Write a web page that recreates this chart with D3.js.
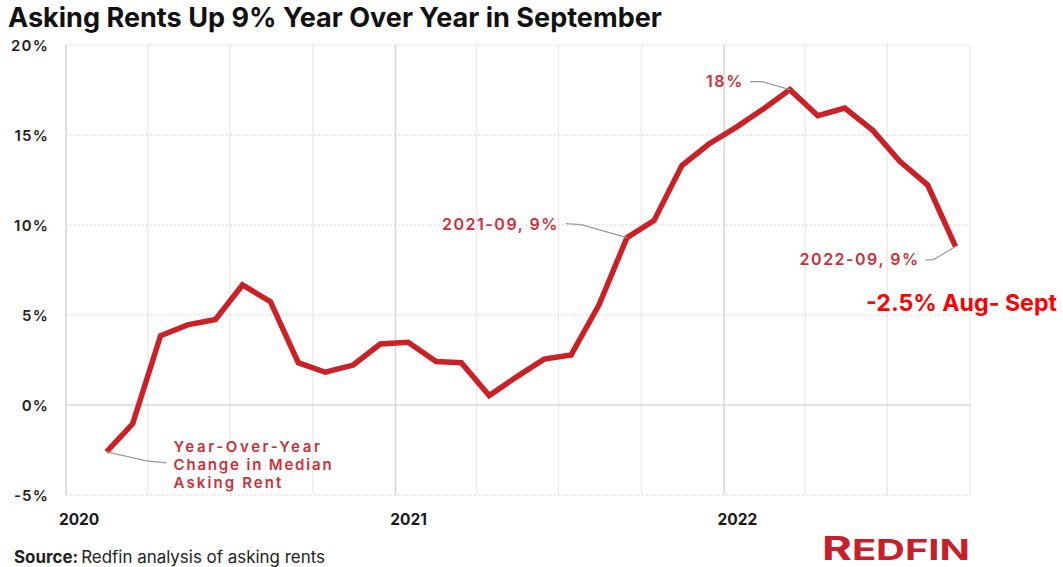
<!DOCTYPE html>
<html>
<head>
<meta charset="utf-8">
<script src="https://cdn.jsdelivr.net/npm/d3@7"></script>
<style>
  html, body { margin: 0; padding: 0; background: #fff; }
  svg { display: block; }
  text { font-family: Inter, Roboto, sans-serif; }
</style>
</head>
<body>
<div id="chart"></div>
<script>
// year-over-year change in median asking rent, Feb 2020 - Sep 2022
const months = [
  '2020-02', '2020-03', '2020-04', '2020-05', '2020-06', '2020-07', '2020-08',
  '2020-09', '2020-10', '2020-11', '2020-12',
  '2021-01', '2021-02', '2021-03', '2021-04', '2021-05', '2021-06', '2021-07',
  '2021-08', '2021-09', '2021-10', '2021-11', '2021-12',
  '2022-01', '2022-02', '2022-03', '2022-04', '2022-05', '2022-06', '2022-07',
  '2022-08', '2022-09',
];
const yoyChange = [
  -2.6, -1.05, 3.85, 4.45, 4.75, 6.67, 5.74,
  2.35, 1.82, 2.22, 3.39,
  3.48, 2.41, 2.35, 0.52, 1.55, 2.55, 2.78,
  5.56, 9.3, 10.24, 13.3, 14.5,
  15.45, 16.5, 17.52, 16.07, 16.5, 15.26, 13.54,
  12.22, 8.8,
];
const yTicks = [-5, 0, 5, 10, 15, 20];
const yearTicks = ['2020', '2021', '2022'];

const title = 'Asking Rents Up 9% Year Over Year in September';
const seriesLabel = ['Year-Over-Year', 'Change in Median', 'Asking Rent'];
const peakLabel = '18%';
const callouts = [
  {month: '2021-09', text: '2021-09, 9%'},
  {month: '2022-09', text: '2022-09, 9%'},
];
const monthNote = '-2.5% Aug- Sept';

const W = 1063;
const H = 567;
const margin = {top: 45, right: 93, bottom: 72, left: 66};
const lineRed = '#cc2027';
const textRed = '#cc2f37';

const parseMonth = d3.timeParse('%Y-%m');
// points sit mid-month
const midMonth = (m) => d3.timeDay.offset(parseMonth(m), 14);

const data = months.map((m, i) => ({date: midMonth(m), value: yoyChange[i], month: m}));

const xScale = d3.scaleTime()
    .domain([new Date(2020, 0, 1), new Date(2022, 9, 1)])
    .range([margin.left, W - margin.right]);
const yScale = d3.scaleLinear()
    .domain([-5, 20])
    .range([H - margin.bottom, margin.top]);

const svg = d3.select('#chart').append('svg')
    .attr('width', W)
    .attr('height', H);

// fits a text element to a target width by scaling its font size
const fitWidth = (sel, target) => {
  const size = parseFloat(sel.attr('font-size'));
  const w = sel.node().getComputedTextLength();
  sel.attr('font-size', (size * target / w).toFixed(2));
};

// same, but through letter spacing so the font size stays put
const fitSpacing = (sel, target) => {
  const txt = sel.text();
  sel.attr('letter-spacing', 0);
  const w = sel.node().getComputedTextLength();
  sel.attr('letter-spacing', ((target - w) / txt.length).toFixed(2));
};

// vertical grid, one line per quarter
const quarters = d3.timeMonth.every(3).range(new Date(2020, 0, 1), new Date(2022, 9, 2));
svg.append('g')
    .selectAll('line')
    .data(quarters)
    .join('line')
    .attr('x1', (d) => xScale(d))
    .attr('x2', (d) => xScale(d))
    .attr('y1', margin.top)
    .attr('y2', H - margin.bottom)
    .attr('stroke', (d) => d.getMonth() === 0 ? '#d6d6d6' : '#ececec')
    .attr('stroke-width', 1.5);

// horizontal grid
svg.append('g')
    .selectAll('line')
    .data(yTicks)
    .join('line')
    .attr('x1', margin.left)
    .attr('x2', W - margin.right)
    .attr('y1', (d) => yScale(d))
    .attr('y2', (d) => yScale(d))
    .attr('stroke', (d) => d === 0 ? '#d9d9d9' : '#c8c8c8')
    .attr('stroke-width', (d) => d === 0 ? 1.5 : 1)
    .attr('stroke-dasharray', (d) => d === 0 ? null : '1.5,2.5');

// left axis line
svg.append('line')
    .attr('x1', margin.left).attr('x2', margin.left)
    .attr('y1', margin.top).attr('y2', H - margin.bottom)
    .attr('stroke', '#dcdcdc')
    .attr('stroke-width', 1.5);

// y labels
const yAxis = d3.axisLeft(yScale)
    .tickValues(yTicks)
    .tickFormat((d) => d + '%')
    .tickSize(0)
    .tickPadding(17);
svg.append('g')
    .attr('transform', `translate(${margin.left},0)`)
    .call(yAxis)
    .call((g) => g.select('.domain').remove())
    .selectAll('text')
    .attr('font-family', 'Inter, Roboto, sans-serif')
    .attr('font-size', 15)
    .attr('font-weight', 600)
    .attr('letter-spacing', 1.2)
    .attr('fill', '#222')
    .attr('dy', '0.35em');

// x labels, centred on mid-January
const xAxis = d3.axisBottom(xScale)
    .tickValues(yearTicks.map((y) => d3.timeDay.offset(new Date(+y, 0, 1), 14)))
    .tickFormat(d3.timeFormat('%Y'))
    .tickSize(0)
    .tickPadding(19);
svg.append('g')
    .attr('transform', `translate(0,${H - margin.bottom})`)
    .call(xAxis)
    .call((g) => g.select('.domain').remove())
    .selectAll('text')
    .attr('font-family', 'Inter, Roboto, sans-serif')
    .attr('font-size', 15.5)
    .attr('font-weight', 700)
    .attr('fill', '#1a1a1a');

// the series
const line = d3.line()
    .x((d) => xScale(d.date))
    .y((d) => yScale(d.value));
svg.append('path')
    .datum(data)
    .attr('fill', 'none')
    .attr('stroke', lineRed)
    .attr('stroke-width', 5.5)
    .attr('stroke-linejoin', 'miter')
    .attr('d', line);

// annotations
const leader = (pts) => svg.append('polyline')
    .attr('points', pts.map((p) => p.join(',')).join(' '))
    .attr('fill', 'none')
    .attr('stroke', '#9a9a9a')
    .attr('stroke-width', 1.2);

const annText = (x, y, txt, anchor, width, size) => svg.append('text')
    .attr('x', x)
    .attr('y', y)
    .attr('text-anchor', anchor || 'start')
    .attr('font-family', 'Inter, Roboto, sans-serif')
    .attr('font-size', size || 16)
    .attr('font-weight', 600)
    .attr('fill', textRed)
    .text(txt)
    .call(fitSpacing, width);

// first point: series label
const first = data[0];
const fx = xScale(first.date);
const fy = yScale(first.value);
leader([[fx, fy], [fx + 40, fy + 9], [fx + 60, fy + 11]]);
const labelWidths = [149, 160, 110];
seriesLabel.forEach((t, i) => {
  annText(fx + 67, fy + i * 18, t, 'start', labelWidths[i], 15);
});

// peak
const peak = data.reduce((a, b) => (b.value > a.value ? b : a));
const px = xScale(peak.date);
const py = yScale(peak.value);
leader([[px - 40, py - 8], [px - 28, py - 8], [px, py]]);
annText(px - 46, py - 2.5, peakLabel, 'end', 38);

// 2021-09
const c1 = data.find((d) => d.month === callouts[0].month);
const c1x = xScale(c1.date);
const c1y = yScale(c1.value);
leader([[c1x - 61, c1y - 14], [c1x - 46, c1y - 13], [c1x, c1y]]);
annText(c1x - 68, c1y - 8, callouts[0].text, 'end', 117);

// 2022-09
const c2 = data.find((d) => d.month === callouts[1].month);
const c2x = xScale(c2.date);
const c2y = yScale(c2.value);
leader([[c2x - 30, c2y + 13.5], [c2x - 22, c2y + 13], [c2x, c2y]]);
annText(c2x - 36, c2y + 18, callouts[1].text, 'end', 120);

// month-over-month note
svg.append('text')
    .attr('x', 866)
    .attr('y', 311)
    .attr('font-family', '\'Open Sans\', \'Noto Sans\', sans-serif')
    .attr('font-size', 22)
    .attr('font-weight', 700)
    .attr('fill', '#ff0000')
    .text(monthNote)
    .call(fitWidth, 191);

// title
svg.append('text')
    .attr('x', 8)
    .attr('y', 27)
    .attr('font-family', 'Inter, Roboto, sans-serif')
    .attr('font-size', 21)
    .attr('font-weight', 700)
    .attr('fill', '#111')
    .text(title)
    .call(fitWidth, 654);

// source
const src = svg.append('text')
    .attr('x', 14)
    .attr('y', 563)
    .attr('font-family', 'Inter, Roboto, sans-serif')
    .attr('font-size', 13.5)
    .attr('fill', '#222');
src.append('tspan').attr('font-weight', 700).text('Source:');
src.append('tspan').attr('font-weight', 400).attr('dx', 3).text('Redfin analysis of asking rents');
src.call(fitWidth, 308);

// logo: tall R, wide caps
svg.append('text')
    .attr('x', 822)
    .attr('y', 560)
    .attr('font-family', 'Roboto, Inter, sans-serif')
    .attr('font-weight', 700)
    .attr('fill', '#c8202a')
    .attr('font-size', 28.5)
    .attr('textLength', 148)
    .attr('lengthAdjust', 'spacingAndGlyphs')
    .call((t) => {
      t.append('tspan').attr('font-size', 32.5).text('R');
      t.append('tspan').text('EDFIN');
    });
</script>
</body>
</html>
